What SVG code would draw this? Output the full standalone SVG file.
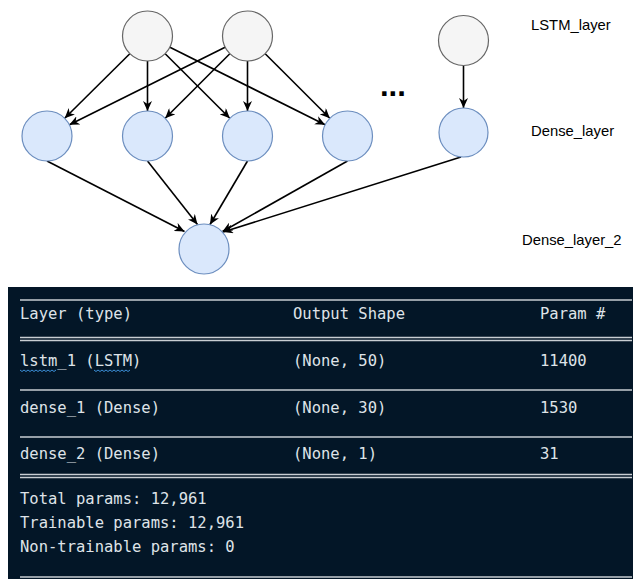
<svg xmlns="http://www.w3.org/2000/svg" width="640" height="579" viewBox="0 0 640 579">
<style>
.lstm{fill:#f5f5f5;stroke:#666666;stroke-width:1.2}
.dense{fill:#dae8fc;stroke:#6c8ebf;stroke-width:1.2}
.edge{stroke:#000;stroke-width:1.6;fill:none;marker-end:url(#arr)}
.lbl{font-family:"Liberation Sans",Arial,sans-serif;font-size:14.8px;fill:#000}
.mono{font-family:"DejaVu Sans Mono","Liberation Mono",monospace;font-size:15.5px;fill:#dfe3e8}
.rule{stroke:#c9ced3;stroke-width:1.4}
.wave{stroke:#3b8fd8;stroke-width:1;fill:none}
</style>
<defs>
<marker id="arr" markerUnits="userSpaceOnUse" markerWidth="11" markerHeight="9" refX="10" refY="4.5" orient="auto">
<path d="M0,0 L10,4.5 L0,9 L3,4.5 z" fill="#000"/>
</marker>
</defs>
<rect width="640" height="579" fill="#ffffff"/>

<g id="connectors">
<line class="edge" x1="129.8" y1="53.7" x2="64.7" y2="118.3"/>
<line class="edge" x1="147.5" y1="61" x2="147.5" y2="111"/>
<line class="edge" x1="165.2" y1="53.7" x2="229.8" y2="118.3"/>
<line class="edge" x1="169.9" y1="47.2" x2="325.1" y2="124.8"/>
<line class="edge" x1="225.1" y1="47.2" x2="69.4" y2="124.8"/>
<line class="edge" x1="229.8" y1="53.7" x2="165.2" y2="118.3"/>
<line class="edge" x1="247.5" y1="61" x2="247.5" y2="111"/>
<line class="edge" x1="265.2" y1="53.7" x2="329.8" y2="118.3"/>
<line class="edge" x1="463.5" y1="65.5" x2="463.5" y2="108"/>
<line class="edge" x1="47" y1="161" x2="184.5" y2="231.5"/>
<line class="edge" x1="147.5" y1="161" x2="197.5" y2="224.5"/>
<line class="edge" x1="247.5" y1="161" x2="210" y2="224.5"/>
<line class="edge" x1="347.5" y1="161" x2="222.5" y2="231.5"/>
<line class="edge" x1="461" y1="157" x2="223" y2="232"/>
</g>

<g id="lstm1"><circle class="lstm" cx="147.5" cy="36" r="25"/></g>
<g id="lstm2"><circle class="lstm" cx="247.5" cy="36" r="25"/></g>
<g id="lstm3"><circle class="lstm" cx="463.5" cy="40.5" r="25"/></g>
<g id="dense1"><circle class="dense" cx="47" cy="136" r="25"/></g>
<g id="dense2"><circle class="dense" cx="147.5" cy="136" r="25"/></g>
<g id="dense3"><circle class="dense" cx="247.5" cy="136" r="25"/></g>
<g id="dense4"><circle class="dense" cx="347.5" cy="136" r="25"/></g>
<g id="dense5"><circle class="dense" cx="463.5" cy="132.5" r="24.5"/></g>
<g id="output"><circle class="dense" cx="204" cy="249" r="25"/></g>

<g id="ellipsis"><text x="380" y="96" font-family="Liberation Sans,Arial,sans-serif" font-size="31" font-weight="bold" fill="#000">...</text></g>
<g id="labels">
<text class="lbl" x="531" y="30">LSTM_layer</text>
<text class="lbl" x="531" y="136">Dense_layer</text>
<text class="lbl" x="522" y="245">Dense_layer_2</text>
</g>

<g id="summary">
<rect x="8" y="287" width="625" height="292" fill="#031627"/>
<line class="rule" x1="20" y1="300" x2="632" y2="300"/>
<text class="mono" x="20" y="319">Layer (type)</text>
<text class="mono" x="293" y="319">Output Shape</text>
<text class="mono" x="540" y="319">Param #</text>
<line class="rule" x1="20" y1="337.5" x2="632" y2="337.5"/>
<line class="rule" x1="20" y1="340.5" x2="632" y2="340.5"/>
<text class="mono" x="20" y="366">lstm_1 (LSTM)</text>
<text class="mono" x="293" y="366">(None, 50)</text>
<text class="mono" x="540" y="366">11400</text>
<path class="wave" d="M20,370 l2,1.5 l2,-1.5 l2,1.5 l2,-1.5 l2,1.5 l2,-1.5 l2,1.5 l2,-1.5 l2,1.5 l2,-1.5 l2,1.5 l2,-1.5 l2,1.5 l2,-1.5 l2,1.5 l2,-1.5 l2,1.5 l2,-1.5"/>
<path class="wave" d="M94,370 l2,1.5 l2,-1.5 l2,1.5 l2,-1.5 l2,1.5 l2,-1.5 l2,1.5 l2,-1.5 l2,1.5 l2,-1.5 l2,1.5 l2,-1.5 l2,1.5 l2,-1.5 l2,1.5 l2,-1.5 l2,1.5 l2,-1.5"/>
<line class="rule" x1="20" y1="390" x2="632" y2="390"/>
<text class="mono" x="20" y="413">dense_1 (Dense)</text>
<text class="mono" x="293" y="413">(None, 30)</text>
<text class="mono" x="540" y="413">1530</text>
<line class="rule" x1="20" y1="437" x2="632" y2="437"/>
<text class="mono" x="20" y="459">dense_2 (Dense)</text>
<text class="mono" x="293" y="459">(None, 1)</text>
<text class="mono" x="540" y="459">31</text>
<line class="rule" x1="20" y1="474.5" x2="632" y2="474.5"/>
<line class="rule" x1="20" y1="477.5" x2="632" y2="477.5"/>
<text class="mono" x="20" y="504">Total params: 12,961</text>
<text class="mono" x="20" y="528">Trainable params: 12,961</text>
<text class="mono" x="20" y="552">Non-trainable params: 0</text>
<line class="rule" x1="20" y1="577" x2="632" y2="577"/>
</g>
</svg>
